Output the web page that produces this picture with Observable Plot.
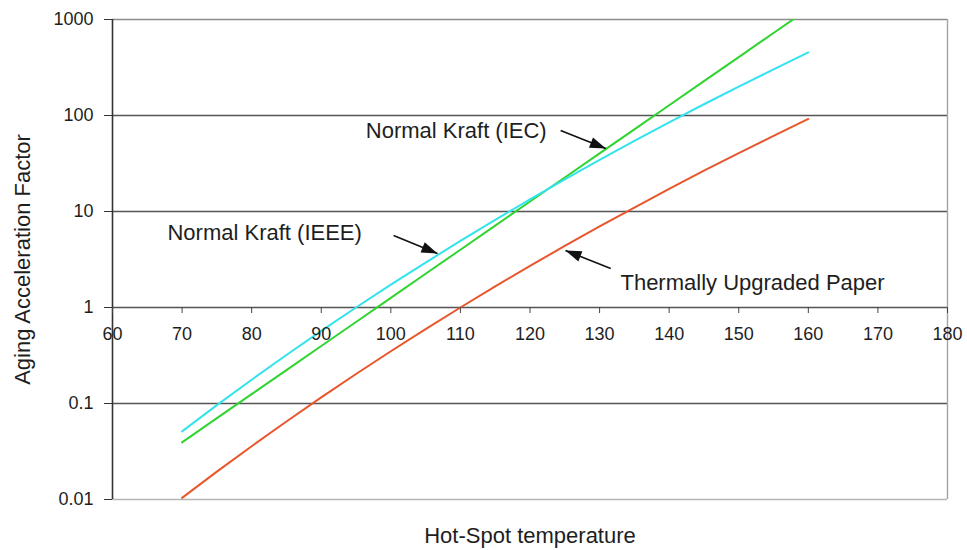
<!DOCTYPE html>
<html>
<head>
<meta charset="utf-8">
<script src="https://cdn.jsdelivr.net/npm/d3@7"></script>
<script src="https://cdn.jsdelivr.net/npm/@observablehq/plot@0.6"></script>
<style>
  html, body { margin: 0; padding: 0; background: #fff; }
  #chart { width: 967px; height: 550px; }
</style>
</head>
<body>
<div id="chart"></div>
<script>
// ---- data ----
const temps = [70, 75, 80, 85, 90, 95, 100, 105, 110, 115, 120, 125, 130, 135, 140, 145, 150, 155, 160];
const iecKraft = [0.0394, 0.0703, 0.125, 0.223, 0.397, 0.707, 1.26, 2.245, 4.0, 7.13, 12.7, 22.6, 40.3, 71.8, 128, 228, 406, 724, 1290];
const ieeeKraft = [0.0513, 0.0961, 0.177, 0.320, 0.570, 1.0, 1.73, 2.94, 4.94, 8.18, 13.4, 21.6, 34.5, 54.4, 84.9, 131, 200, 303, 454];
const upgraded = [0.0104, 0.0195, 0.0359, 0.0649, 0.116, 0.203, 0.350, 0.596, 1.0, 1.66, 2.71, 4.38, 6.99, 11.0, 17.2, 26.6, 40.6, 61.4, 92.1];
const seriesNames = ["Normal Kraft (IEC)", "Normal Kraft (IEEE)", "Thermally Upgraded Paper"];

const xTicks = [60, 70, 80, 90, 100, 110, 120, 130, 140, 150, 160, 170, 180];
const yTicks = [0.01, 0.1, 1, 10, 100, 1000];

// annotations (data coordinates)
const noteText = ["Normal Kraft (IEC)", "Normal Kraft (IEEE)", "Thermally Upgraded Paper"];
const noteT = [96.4, 67.9, 133.0];
const noteF = [69.8, 6.04, 1.82];
const arrowT1 = [124.4, 100.4, 131.6];
const arrowF1 = [69.8, 5.62, 2.55];
const arrowT2 = [130.9, 106.7, 125.1];
const arrowF2 = [45.3, 3.65, 3.92];

const xTitle = "Hot-Spot temperature";
const yTitle = "Aging Acceleration Factor";

// ---- tables ----
const seriesValues = [iecKraft, ieeeKraft, upgraded];
const table = [];
seriesValues.forEach((vals, s) => vals.forEach((v, i) => table.push({series: seriesNames[s], t: temps[i], f: v})));
const notes = noteText.map((t, i) => ({text: t, x: noteT[i], y: noteF[i]}));
const arrows = arrowT1.map((_, i) => ({x1: arrowT1[i], y1: arrowF1[i], x2: arrowT2[i], y2: arrowF2[i]}));

const W = 967, H = 550, mL = 112, mR = 20, mT = 19, mB = 51;

const plot = Plot.plot({
  width: W,
  height: H,
  marginLeft: mL,
  marginRight: mR,
  marginTop: mT,
  marginBottom: mB,
  style: {fontFamily: "'Liberation Sans', Arial, Helvetica, sans-serif", fontSize: "18px", color: "#1e1e1e", background: "#fff", overflow: "visible"},
  x: {domain: [60, 180]},
  y: {type: "log", domain: [0.01, 1000]},
  color: {domain: seriesNames, range: ["#2fd42f", "#33e3ec", "#e8562b"]},
  marks: [
    Plot.ruleY(yTicks, {y: d => d, stroke: d => d === 1000 ? "#8c8c8c" : d === 0.01 ? "#b5b5b5" : "#555", strokeWidth: 1.6}),
    Plot.ruleX([180], {stroke: "#a3a3a3", strokeWidth: 1.4}),
    Plot.ruleX([60], {stroke: "#333", strokeWidth: 1.6}),
    Plot.line(table, {x: "t", y: "f", z: "series", stroke: "series", strokeWidth: 2, clip: true}),
    Plot.axisY({ticks: yTicks, tickFormat: d => String(d), tickSize: 8, tickPadding: 11, label: null, stroke: "#333"}),
    Plot.axisX({ticks: xTicks, tickFormat: d => String(d), tickSize: 6, tickPadding: 14, label: null, stroke: "#444"}),
    Plot.text(notes, {x: "x", y: "y", text: "text", textAnchor: "start", lineAnchor: "middle", fontSize: 22, fill: "#1e1e1e"}),
    Plot.link(arrows, {x1: "x1", y1: "y1", x2: "x2", y2: "y2", stroke: "#111", strokeWidth: 1.6}),
    Plot.text([xTitle], {frameAnchor: "bottom", dy: 36, text: d => d, textAnchor: "middle", lineAnchor: "middle", fontSize: 22, fill: "#1e1e1e"}),
    Plot.text([yTitle], {frameAnchor: "left", dx: -90, rotate: -90, text: d => d, textAnchor: "middle", lineAnchor: "middle", fontSize: 22, fill: "#1e1e1e"})
  ]
});

// move the x axis onto the y = 1 line
const yOne = plot.scale("y").apply(1);
const shift = yOne - (H - mB);
plot.querySelectorAll('g[aria-label="x-axis tick"], g[aria-label="x-axis tick label"]').forEach(g => {
  g.setAttribute("transform", `translate(0,${shift}) ` + (g.getAttribute("transform") || ""));
});

// filled arrow heads
const ns = "http://www.w3.org/2000/svg";
const defs = document.createElementNS(ns, "defs");
const marker = document.createElementNS(ns, "marker");
marker.setAttribute("id", "ahead");
marker.setAttribute("markerUnits", "userSpaceOnUse");
marker.setAttribute("viewBox", "-17 -7 18 14");
marker.setAttribute("markerWidth", "18");
marker.setAttribute("markerHeight", "14");
marker.setAttribute("refX", "0");
marker.setAttribute("refY", "0");
marker.setAttribute("orient", "auto");
const mp = document.createElementNS(ns, "path");
mp.setAttribute("d", "M0,0L-16,-5.5L-16,5.5Z");
mp.setAttribute("fill", "#111");
marker.appendChild(mp);
defs.appendChild(marker);
plot.insertBefore(defs, plot.firstChild);
plot.querySelectorAll('g[aria-label="link"] path').forEach(p => p.setAttribute("marker-end", "url(#ahead)"));

document.getElementById("chart").appendChild(plot);
</script>
</body>
</html>
